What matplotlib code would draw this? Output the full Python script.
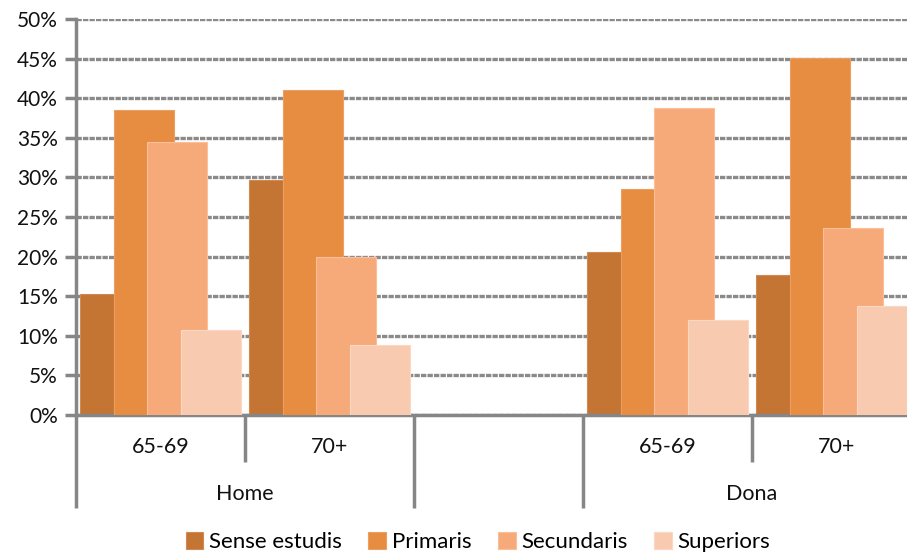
import numpy as np
import matplotlib
matplotlib.use("Agg")
import matplotlib.pyplot as plt
from matplotlib.ticker import PercentFormatter

# -----------------------------
# Data (percent)
# -----------------------------
age_labels = ["65-69", "70+", "", "65-69", "70+"]
sex_labels = ["Home", "Dona"]
sex_spans = [(0, 2), (3, 5)]  # category index ranges for each group

series_names = ["Sense estudis", "Primaris", "Secundaris", "Superiors"]
sense_estudis = [15.3, 29.7, np.nan, 20.6, 17.7]
primaris = [38.5, 41.0, np.nan, 28.5, 45.1]
secundaris = [34.5, 20.0, np.nan, 38.8, 23.6]
superiors = [10.7, 8.8, np.nan, 12.0, 13.7]

colors = ["#C47433", "#E68D42", "#F7AA79", "#F8CBB0"]
edges = ["#D08A52", "#EC9F5E", "#FBBE98", "#FBD8C3"]

plt.rcParams["font.family"] = ["Lato", "DejaVu Sans"]
grey = "#868686"
txt = "#111111"

fig = plt.figure(figsize=(9.07, 5.52), dpi=100)
W, H = 907, 552
ax = fig.add_axes([76 / W, 137 / H, (921 - 76) / W, 396 / H])

# -----------------------------
# Overlapping bars (Excel style)
# -----------------------------
w = 0.355
step = 0.198
span = w + 3 * step
start = (1 - span) / 2

all_series = [sense_estudis, primaris, secundaris, superiors]
x = np.arange(len(age_labels))
for k, (vals, name) in enumerate(zip(all_series, series_names)):
    vals = np.array(vals, dtype=float)
    ok = ~np.isnan(vals)
    ax.bar(x[ok] + start + k * step, vals[ok], width=w, align="edge",
           color=colors[k], edgecolor=edges[k], linewidth=0.8,
           label=name, zorder=2 + k)

ax.set_xlim(0, len(age_labels))
ax.set_ylim(0, 50)
ax.set_yticks(np.arange(0, 51, 5))
ax.yaxis.set_major_formatter(PercentFormatter(decimals=0))
ax.grid(axis="y", color="#8a8a8a", linewidth=2.4, linestyle=(0, (1.6, 0.35)))
ax.set_axisbelow(True)

for s in ["top", "right"]:
    ax.spines[s].set_visible(False)
for s in ["left", "bottom"]:
    ax.spines[s].set_color(grey)
    ax.spines[s].set_linewidth(2.5)

ax.tick_params(axis="y", direction="out", length=8, width=2.5, color=grey,
               labelsize=15, labelcolor=txt, pad=5)
ax.set_xticks([])

# -----------------------------
# Two-level category axis
# -----------------------------
trans = ax.get_xaxis_transform()
inner_y = -47 / 396
outer_y = -93 / 396
outer = {0, 2, 3, 5}
for i in range(len(age_labels) + 1):
    bottom = outer_y if i in outer else inner_y
    ax.plot([i, i], [0, bottom], color=grey, linewidth=2.5,
            transform=trans, clip_on=False, solid_capstyle="butt")

for i, lab in enumerate(age_labels):
    if lab:
        ax.text(i + 0.5, -32 / 396, lab, transform=trans, ha="center",
                va="center", fontsize=15.5, color=txt)

for lab, (a, b) in zip(sex_labels, sex_spans):
    ax.text((a + b) / 2, -79 / 396, lab, transform=trans, ha="center",
            va="center", fontsize=15.5, color=txt)

fig.legend(loc="center", bbox_to_anchor=(478 / W, 1 - 542 / H), ncol=4,
           frameon=False, fontsize=16, handlelength=0.8, handleheight=0.8,
           handletextpad=0.25, columnspacing=1.2, borderpad=0.1)

fig.savefig("out.png", dpi=100)
